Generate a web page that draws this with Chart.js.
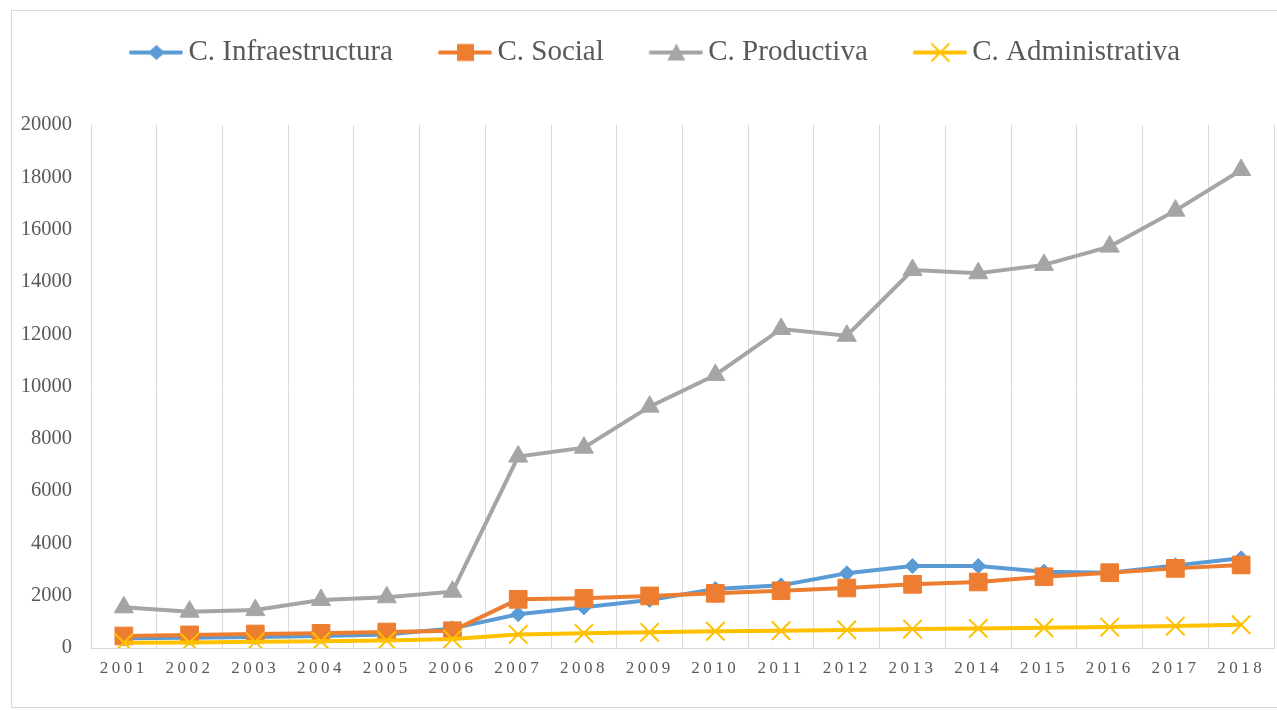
<!DOCTYPE html>
<html>
<head>
<meta charset="utf-8">
<script src="https://cdn.jsdelivr.net/npm/chart.js@4.4.1/dist/chart.umd.min.js"></script>
<style>
html,body{margin:0;padding:0;background:#fff;}
#wrap{width:1277px;height:710px;position:relative;}
</style>
</head>
<body>
<div id="wrap"><canvas id="c"></canvas></div>
<script>
// ---- data ----
const years = ['2001','2002','2003','2004','2005','2006','2007','2008','2009','2010','2011','2012','2013','2014','2015','2016','2017','2018'];
const seriesNames = ['C. Infraestructura','C. Social','C. Productiva','C. Administrativa'];
const infraestructura = [370, 390, 420, 460, 520, 750, 1290, 1555, 1835, 2255, 2395, 2855, 3135, 3135, 2920, 2880, 3160, 3430];
const social          = [460, 500, 535, 560, 610, 660, 1860, 1900, 1990, 2090, 2190, 2295, 2435, 2525, 2725, 2880, 3045, 3175];
const productiva      = [1555, 1390, 1450, 1835, 1940, 2155, 7320, 7660, 9230, 10440, 12200, 11940, 14455, 14330, 14650, 15350, 16725, 18280];
const administrativa  = [205, 215, 235, 260, 290, 340, 520, 560, 600, 640, 660, 690, 725, 750, 775, 800, 840, 890];
const yMin = 0, yMax = 20000, yStep = 2000;

// ---- styles ----
const colors = ['#5B9BD5', '#ED7D31', '#A5A5A5', '#FFC000'];
const FONT = "'Liberation Serif', 'Times New Roman', serif";

function legendSymbol(color, kind) {
  const c = document.createElement('canvas');
  c.width = 98; c.height = 30;
  const g = c.getContext('2d');
  g.strokeStyle = color; g.fillStyle = color;
  g.lineWidth = 4; g.lineCap = 'round';
  g.beginPath(); g.moveTo(46, 15); g.lineTo(96, 15); g.stroke();
  const cx = 71.5, cy = 15;
  g.beginPath();
  if (kind === 'diamond') {
    g.moveTo(cx, cy - 7.5); g.lineTo(cx + 8.5, cy); g.lineTo(cx, cy + 7.5); g.lineTo(cx - 8.5, cy); g.closePath(); g.fill();
  } else if (kind === 'square') {
    g.rect(cx - 8.5, cy - 8.5, 17, 17); g.fill();
  } else if (kind === 'triangle') {
    g.moveTo(cx, cy - 9); g.lineTo(cx + 9, cy + 8); g.lineTo(cx - 9, cy + 8); g.closePath(); g.fill();
  } else {
    g.lineWidth = 2; g.lineCap = 'butt';
    g.moveTo(cx - 9, cy - 9); g.lineTo(cx + 9, cy + 9);
    g.moveTo(cx + 9, cy - 9); g.lineTo(cx - 9, cy + 9); g.stroke();
  }
  return c;
}
const legendImgs = [
  legendSymbol(colors[0], 'diamond'),
  legendSymbol(colors[1], 'square'),
  legendSymbol(colors[2], 'triangle'),
  legendSymbol(colors[3], 'x')
];

const frame = {
  id: 'frame',
  beforeDraw(chart) {
    const ctx = chart.ctx;
    ctx.save();
    ctx.fillStyle = '#fff';
    ctx.fillRect(0, 0, chart.width, chart.height);
    ctx.strokeStyle = '#D9D9D9';
    ctx.lineWidth = 1;
    ctx.strokeRect(11.5, 10.5, 1300, 697);
    ctx.restore();
  }
};
const spacing = {
  id: 'spacing',
  afterDatasetsDraw(chart) { chart.ctx.letterSpacing = '3.5px'; },
  afterDraw(chart) { chart.ctx.letterSpacing = '0px'; }
};

new Chart(document.getElementById('c'), {
  type: 'line',
  data: {
    labels: years,
    datasets: [
      { label: seriesNames[0], data: infraestructura, borderColor: colors[0], backgroundColor: colors[0],
        borderWidth: 4, pointStyle: 'rectRot', pointRadius: 7.5, pointBorderWidth: 1, order: 4 },
      { label: seriesNames[1], data: social, borderColor: colors[1], backgroundColor: colors[1],
        borderWidth: 4, pointStyle: 'rect', pointRadius: 12.5, pointBorderWidth: 1, order: 3 },
      { label: seriesNames[2], data: productiva, borderColor: colors[2], backgroundColor: colors[2],
        borderWidth: 4, pointStyle: 'triangle', pointRadius: 11, pointBorderWidth: 1, order: 2 },
      { label: seriesNames[3], data: administrativa, borderColor: colors[3], backgroundColor: colors[3],
        borderWidth: 4, pointStyle: 'crossRot', pointRadius: 13, pointBorderWidth: 2, order: 1 }
    ]
  },
  options: {
    responsive: true,
    maintainAspectRatio: false,
    animation: false,
    layout: { autoPadding: false, padding: { top: 28, left: 0, right: 3, bottom: 0 } },
    elements: { line: { tension: 0 } },
    plugins: {
      legend: {
        position: 'top',
        labels: {
          usePointStyle: true,
          pointStyleWidth: 80,
          boxHeight: 29,
          padding: 10,
          color: '#595959',
          font: { family: FONT, size: 29 },
          sort: (a, b) => a.datasetIndex - b.datasetIndex,
          generateLabels(chart) {
            const items = Chart.defaults.plugins.legend.labels.generateLabels(chart);
            items.forEach(it => { it.pointStyle = legendImgs[it.datasetIndex]; it.fontColor = '#595959'; });
            return items;
          }
        }
      },
      title: { display: true, text: ' ', weight: 500, font: { size: 10 }, padding: { top: 36, bottom: 0 } },
      tooltip: { enabled: false }
    },
    scales: {
      x: {
        offset: true,
        grid: { offset: true, color: '#D9D9D9', lineWidth: 1, drawTicks: false },
        border: { color: '#D9D9D9', width: 1 },
        ticks: { z: 1, padding: 10, color: '#595959', font: { family: FONT, size: 17 }, autoSkip: false, maxRotation: 0 },
        afterFit(s) { s.height = 62; s.paddingLeft = 0; s.paddingRight = 0; }
      },
      y: {
        min: yMin, max: yMax,
        grid: { display: false, drawTicks: false },
        border: { display: false },
        ticks: { stepSize: yStep, padding: 19, color: '#595959', font: { family: FONT, size: 20.5 }, callback: v => String(v) },
        afterFit(s) { s.width = 91; }
      }
    }
  },
  plugins: [frame, spacing]
});
</script>
</body>
</html>
